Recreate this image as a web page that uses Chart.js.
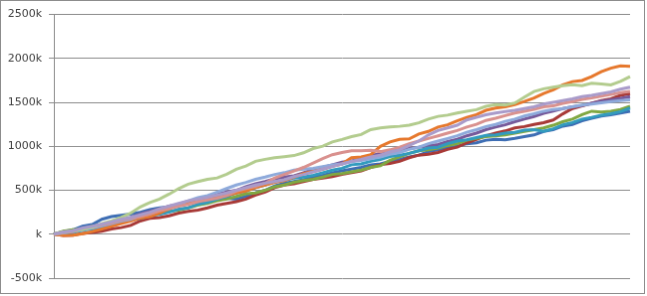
<!DOCTYPE html>
<html>
<head>
<meta charset="utf-8">
<script src="https://cdn.jsdelivr.net/npm/chart.js@4/dist/chart.umd.min.js"></script>
<style>
    body { margin: 0; background: #ffffff; }
    #chart { display: block; border: 1px solid #8c8c8c; }
</style>
</head>
<body>
<canvas id="chart" width="645" height="294"></canvas>
<script>
// values in thousands, one point per step (no x labels are shown)
var steps = [];
for (var s = 0; s <= 60; s++) {
    steps.push(s);
}

var yTicks = [-500, 0, 500, 1000, 1500, 2000, 2500];

var seriesBlue = [0, 30, 50, 90, 110, 170, 200, 215, 230, 250, 280, 300, 310, 335, 350, 370, 380, 395, 410, 400, 430, 470, 500, 550, 580, 600, 620, 650, 670, 700, 720, 740, 760, 790, 800, 830, 850, 880, 900, 940, 960, 985, 1000, 1030, 1040, 1070, 1080, 1075, 1090, 1110, 1130, 1170, 1190, 1230, 1250, 1290, 1320, 1345, 1360, 1380, 1400];
var seriesRed = [0, -15, -10, 10, 20, 35, 60, 75, 100, 150, 180, 190, 210, 240, 260, 275, 300, 330, 350, 370, 400, 445, 480, 530, 560, 575, 600, 625, 640, 655, 680, 700, 720, 760, 790, 805, 830, 870, 900, 910, 930, 965, 990, 1040, 1080, 1120, 1150, 1175, 1210, 1225, 1250, 1270, 1300, 1370, 1430, 1460, 1490, 1520, 1540, 1580, 1600];
var seriesGreen = [0, 35, 50, 60, 90, 105, 130, 155, 170, 185, 210, 240, 260, 275, 300, 330, 350, 380, 400, 430, 460, 470, 500, 540, 560, 590, 610, 625, 650, 680, 690, 710, 730, 760, 780, 840, 880, 920, 950, 960, 980, 1010, 1030, 1070, 1090, 1110, 1120, 1130, 1150, 1170, 1190, 1210, 1240, 1280, 1310, 1360, 1400, 1390, 1400, 1420, 1455];
var seriesPurple = [0, 20, 30, 55, 70, 100, 130, 165, 190, 230, 260, 285, 320, 340, 370, 400, 420, 455, 480, 500, 540, 575, 600, 630, 650, 665, 700, 735, 760, 790, 820, 835, 860, 895, 920, 945, 960, 975, 990, 1005, 1020, 1055, 1080, 1120, 1150, 1190, 1220, 1245, 1280, 1310, 1340, 1375, 1400, 1430, 1450, 1465, 1490, 1515, 1530, 1545, 1565];
var seriesTeal = [0, 15, 20, 45, 60, 70, 100, 140, 160, 180, 210, 225, 250, 285, 300, 340, 360, 400, 430, 470, 490, 530, 560, 595, 610, 640, 650, 670, 700, 730, 750, 790, 800, 830, 850, 885, 900, 920, 950, 980, 990, 1030, 1060, 1075, 1100, 1125, 1130, 1150, 1160, 1185, 1190, 1170, 1200, 1245, 1270, 1310, 1330, 1355, 1370, 1395, 1436];
var seriesOrange = [0, -15, -10, 5, 30, 60, 90, 120, 150, 185, 200, 240, 290, 340, 370, 385, 400, 420, 440, 470, 490, 530, 560, 590, 610, 650, 690, 715, 740, 775, 800, 870, 880, 905, 1000, 1050, 1080, 1085, 1140, 1170, 1220, 1245, 1290, 1330, 1360, 1410, 1436, 1450, 1474, 1510, 1549, 1600, 1643, 1700, 1737, 1750, 1794, 1850, 1889, 1915, 1910];
var seriesLightBlue = [0, 15, 30, 50, 70, 95, 120, 150, 170, 205, 230, 270, 300, 345, 380, 415, 440, 480, 520, 560, 590, 625, 650, 680, 700, 730, 740, 750, 770, 790, 800, 825, 840, 860, 880, 910, 930, 965, 990, 1030, 1060, 1090, 1120, 1160, 1190, 1225, 1250, 1285, 1310, 1345, 1370, 1400, 1420, 1430, 1450, 1470, 1480, 1495, 1510, 1520, 1530];
var seriesPink = [0, 20, 30, 60, 80, 110, 130, 160, 180, 200, 230, 265, 290, 320, 340, 370, 390, 410, 440, 490, 520, 545, 580, 640, 680, 720, 760, 810, 860, 905, 930, 950, 950, 955, 940, 960, 990, 1030, 1060, 1090, 1120, 1150, 1180, 1220, 1250, 1295, 1320, 1350, 1380, 1400, 1420, 1450, 1460, 1490, 1510, 1535, 1550, 1570, 1590, 1610, 1624];
var seriesLightGreen = [0, 25, 40, 55, 80, 120, 150, 190, 240, 310, 360, 400, 456, 520, 569, 600, 625, 640, 682, 740, 776, 830, 852, 870, 882, 895, 927, 975, 1002, 1050, 1078, 1110, 1134, 1190, 1210, 1220, 1228, 1240, 1267, 1310, 1341, 1355, 1380, 1400, 1417, 1455, 1474, 1470, 1493, 1560, 1624, 1655, 1674, 1690, 1700, 1690, 1719, 1710, 1700, 1740, 1794];
var seriesLavender = [0, 25, 40, 70, 90, 115, 140, 170, 190, 220, 250, 290, 320, 350, 380, 400, 420, 445, 470, 500, 530, 560, 580, 600, 620, 655, 680, 710, 740, 770, 800, 830, 850, 880, 900, 935, 960, 1010, 1060, 1130, 1180, 1210, 1240, 1300, 1330, 1360, 1380, 1395, 1410, 1430, 1450, 1480, 1500, 1520, 1540, 1565, 1580, 1600, 1620, 1650, 1674];

var seriesList = [seriesBlue, seriesRed, seriesGreen, seriesPurple, seriesTeal,
    seriesOrange, seriesLightBlue, seriesPink, seriesLightGreen, seriesLavender];
var seriesColor = ["#3e6eb4", "#a83a37", "#80a842", "#765a9b", "#329bbe",
    "#e6782d", "#8eaadb", "#d9918e", "#b3cc8e", "#a99bca"];

function getDatasets() {
    var datasets = [];
    for (var i = 0; i < seriesList.length; i++) {
        datasets.push({
            data: seriesList[i],
            borderColor: seriesColor[i],
            borderWidth: 3,
            pointRadius: 0,
            tension: 0,
            fill: false,
            // excel paints later series on top
            order: seriesList.length - i
        });
    }
    return datasets;
}

var ctx = document.getElementById("chart").getContext("2d");
new Chart(ctx, {
    type: 'line',
    data: { labels: steps, datasets: getDatasets() },
    options: {
        responsive: false,
        animation: false,
        layout: { padding: { left: 0, top: 13, right: 14, bottom: 15 } },
        plugins: { legend: { display: false }, tooltip: { enabled: false } },
        scales: {
            x: { display: false },
            y: {
                min: -500,
                max: 2500,
                afterFit: function (scale) { scale.width = 53; },
                afterBuildTicks: function (scale) {
                    scale.ticks = yTicks.map(function (v) { return { value: v }; });
                },
                ticks: {
                    padding: 7,
                    color: "#404040",
                    font: { family: "DejaVu Sans", size: 11 },
                    callback: function (v) { return v === 0 ? "k" : v + "k"; }
                },
                grid: { color: "#8c8c8c", tickLength: 5 },
                border: { color: "#8c8c8c" }
            }
        }
    }
});
</script>
</body>
</html>
